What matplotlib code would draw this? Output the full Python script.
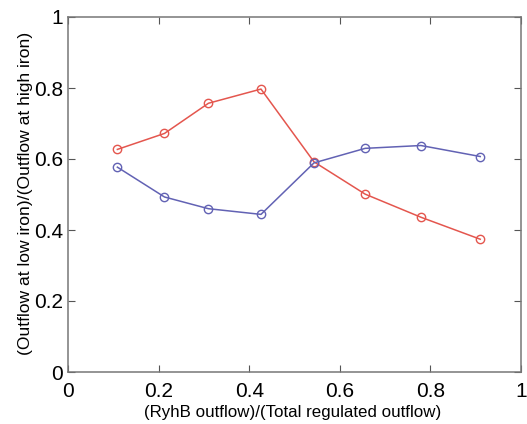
import numpy as np
import matplotlib
matplotlib.use("Agg")
import matplotlib.pyplot as plt

plt.rcParams['font.family'] = ['Liberation Sans', 'DejaVu Sans']

# ratio of RyhB outflow to total regulated outflow
ryhb_frac = [0.109, 0.213, 0.310, 0.426, 0.543, 0.656, 0.779, 0.910]
red_ratio = [0.627, 0.672, 0.757, 0.797, 0.592, 0.501, 0.436, 0.374]
blue_ratio = [0.577, 0.493, 0.460, 0.444, 0.589, 0.630, 0.638, 0.607]

xticks = [0, 0.2, 0.4, 0.6, 0.8, 1]
xtick_labels = ['0', '0.2', '0.4', '0.6', '0.8', '1']
yticks = [0, 0.2, 0.4, 0.6, 0.8, 1]
ytick_labels = ['0', '0.2', '0.4', '0.6', '0.8', '1']

W, H = 527, 424
fig = plt.figure(figsize=(W / 100, H / 100), dpi=100)
# axes box in pixels: left 68, right 521, top 17, bottom 372
ax = fig.add_axes([68 / W, 1 - 372 / H, 453 / W, 355 / H])

ax.plot(ryhb_frac, red_ratio, color='#e4564e', linewidth=1.1, marker='o',
        markersize=6, markerfacecolor='none', markeredgewidth=1.0)
ax.plot(ryhb_frac, blue_ratio, color='#6262b4', linewidth=1.1, marker='o',
        markersize=6, markerfacecolor='none', markeredgewidth=1.0)

ax.set_xlim(0, 1)
ax.set_ylim(0, 1)
ax.set_xticks(xticks)
ax.set_xticklabels(xtick_labels)
ax.set_yticks(yticks)
ax.set_yticklabels(ytick_labels)
ax.tick_params(direction='in', top=True, right=True, length=5, width=0.8,
               labelsize=15, color='#555555')
ax.tick_params(axis='x', pad=7)
ax.tick_params(axis='y', pad=3.5)
for s in ax.spines.values():
    s.set_color('#777777')
    s.set_linewidth(1.1)

ax.set_xlabel('(RyhB outflow)/(Total regulated outflow)', fontsize=12.2)
ax.xaxis.set_label_coords(0.496, -0.114)
ax.xaxis.label.set_va('center')
ax.set_ylabel('(Outflow at low iron)/(Outflow at high iron)', fontsize=12.6)
ax.yaxis.set_label_coords(-0.0945, 0.504)
ax.yaxis.label.set_va('center')

plt.savefig('out.png', dpi=100)
